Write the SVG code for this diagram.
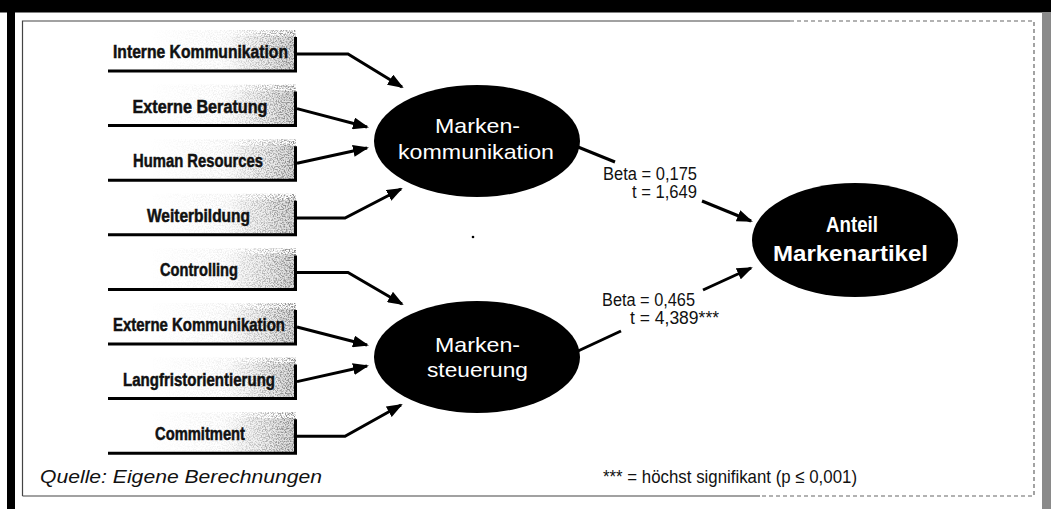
<svg xmlns="http://www.w3.org/2000/svg" width="1051" height="509" viewBox="0 0 1051 509">
  <style>
    .frame { fill: none; stroke: #444; stroke-width: 1.2; }
    .dash { fill: none; stroke: #666; stroke-width: 1.2; stroke-dasharray: 4 3; }
    .bline { stroke: #000; stroke-width: 3; fill: none; }
    .btxt { font-family: "Liberation Sans", Arial, sans-serif; font-weight: bold; font-size: 18px; fill: #111; stroke: #111; stroke-width: 0.5; text-anchor: middle; }
    .etxt { font-family: "Liberation Sans", Arial, sans-serif; font-size: 21px; fill: #fff; text-anchor: middle; }
    .atxt { font-family: "Liberation Sans", Arial, sans-serif; font-weight: bold; font-size: 22px; fill: #fff; text-anchor: middle; }
    .lbl { font-family: "Liberation Sans", Arial, sans-serif; font-size: 17.5px; fill: #111; }
    .foot { font-family: "Liberation Sans", Arial, sans-serif; font-size: 19px; fill: #111; }
    .conn { stroke: #000; stroke-width: 3; fill: none; }
    .arr { marker-end: url(#ah); }
    .speck { fill: url(#speckGrad); filter: url(#speckle); }
  </style>
  <defs>
    <linearGradient id="boxGrad" x1="0" y1="0" x2="1" y2="0">
      <stop offset="0" stop-color="#ffffff"/>
      <stop offset="0.6" stop-color="#ffffff"/>
      <stop offset="0.85" stop-color="#eeeeee"/>
      <stop offset="1" stop-color="#d8d8d8"/>
    </linearGradient>
    <linearGradient id="speckGrad" x1="0" y1="0" x2="1" y2="0">
      <stop offset="0" stop-color="#888" stop-opacity="0"/>
      <stop offset="0.55" stop-color="#888" stop-opacity="0.15"/>
      <stop offset="1" stop-color="#777" stop-opacity="0.9"/>
    </linearGradient>
    <filter id="speckle" x="0" y="0" width="1" height="1">
      <feTurbulence type="fractalNoise" baseFrequency="0.75" numOctaves="2" seed="7" result="n"/>
      <feColorMatrix in="n" type="matrix" values="0 0 0 0 0  0 0 0 0 0  0 0 0 0 0  4 0 0 0 -1.7" result="m"/>
      <feComposite in="SourceGraphic" in2="m" operator="in"/>
    </filter>
    <marker id="ah" markerUnits="userSpaceOnUse" viewBox="0 0 16 12" markerWidth="16" markerHeight="12" refX="14" refY="6" orient="auto">
      <path d="M0,0 L16,6 L0,12 z" fill="#000"/>
    </marker>
  </defs>

  <!-- page border -->
  <rect x="0" y="0" width="1051" height="509" fill="#fff"/>
  <rect x="0" y="0" width="1051" height="12.5" fill="#000"/>
  <rect x="7" y="0" width="8" height="509" fill="#000"/>
  <rect x="1042" y="12" width="9" height="497" fill="#8a8a8a"/>
  <path class="frame" d="M22.5,496 V21 H790"/>
  <path class="dash" d="M790,21 H1034 V496 H760"/>
  <path class="frame" d="M22.5,496 H760"/>

  <!-- connectors -->
  <g id="connectors">
    <path class="conn arr" d="M297,54 H348 L402,87"/>
    <path class="conn arr" d="M297,108.6 L367,127"/>
    <path class="conn arr" d="M297,163.2 L367,148"/>
    <path class="conn arr" d="M297,218 H345 L401,189"/>
    <path class="conn arr" d="M297,272.4 H348 L402,304"/>
    <path class="conn arr" d="M297,327 L367,345"/>
    <path class="conn arr" d="M297,381.6 L367,366"/>
    <path class="conn arr" d="M297,436.2 H345 L401,405"/>
    <path class="conn" d="M578,147 L615,162"/>
    <path class="conn arr" d="M702,201 L751,221"/>
    <path class="conn" d="M578,351 L621,331"/>
    <path class="conn arr" d="M703,290 L751,268"/>
    <text class="lbl" x="697" y="180" text-anchor="end" textLength="94" lengthAdjust="spacingAndGlyphs">Beta = 0,175</text>
    <text class="lbl" x="697" y="198" text-anchor="end" textLength="65" lengthAdjust="spacingAndGlyphs">t = 1,649</text>
    <text class="lbl" x="695" y="306" text-anchor="end" textLength="93" lengthAdjust="spacingAndGlyphs">Beta = 0,465</text>
    <text class="lbl" x="630" y="324" textLength="89" lengthAdjust="spacingAndGlyphs">t = 4,389***</text>
  </g>

  <!-- input boxes -->
  <g id="n-interne-kommunikation">
    <rect x="108" y="36" width="188" height="35" fill="url(#boxGrad)"/>
    <rect class="speck" x="150" y="30" width="146" height="41"/>
    <path class="bline" d="M108,71 H297 M295.5,37 V72.5"/>
    <text class="btxt" x="200.5" y="58" textLength="175" lengthAdjust="spacingAndGlyphs">Interne Kommunikation</text>
  </g>
  <g id="n-externe-beratung">
    <rect x="108" y="90.6" width="188" height="35" fill="url(#boxGrad)"/>
    <rect class="speck" x="150" y="84.6" width="146" height="41"/>
    <path class="bline" d="M108,125.6 H297 M295.5,91.6 V127.1"/>
    <text class="btxt" x="200" y="112.6" textLength="135" lengthAdjust="spacingAndGlyphs">Externe Beratung</text>
  </g>
  <g id="n-human-resources">
    <rect x="108" y="145.2" width="188" height="35" fill="url(#boxGrad)"/>
    <rect class="speck" x="150" y="139.2" width="146" height="41"/>
    <path class="bline" d="M108,180.2 H297 M295.5,146.2 V181.7"/>
    <text class="btxt" x="198" y="167.2" textLength="130" lengthAdjust="spacingAndGlyphs">Human Resources</text>
  </g>
  <g id="n-weiterbildung">
    <rect x="108" y="199.8" width="188" height="35" fill="url(#boxGrad)"/>
    <rect class="speck" x="150" y="193.8" width="146" height="41"/>
    <path class="bline" d="M108,234.8 H297 M295.5,200.8 V236.3"/>
    <text class="btxt" x="198.5" y="221.8" textLength="103" lengthAdjust="spacingAndGlyphs">Weiterbildung</text>
  </g>
  <g id="n-controlling">
    <rect x="108" y="254.4" width="188" height="35" fill="url(#boxGrad)"/>
    <rect class="speck" x="150" y="248.4" width="146" height="41"/>
    <path class="bline" d="M108,289.4 H297 M295.5,255.4 V290.9"/>
    <text class="btxt" x="199" y="276.4" textLength="78" lengthAdjust="spacingAndGlyphs">Controlling</text>
  </g>
  <g id="n-externe-kommunikation">
    <rect x="108" y="309" width="188" height="35" fill="url(#boxGrad)"/>
    <rect class="speck" x="150" y="303" width="146" height="41"/>
    <path class="bline" d="M108,344 H297 M295.5,310 V345.5"/>
    <text class="btxt" x="199" y="331" textLength="172" lengthAdjust="spacingAndGlyphs">Externe Kommunikation</text>
  </g>
  <g id="n-langfristorientierung">
    <rect x="108" y="363.6" width="188" height="35" fill="url(#boxGrad)"/>
    <rect class="speck" x="150" y="357.6" width="146" height="41"/>
    <path class="bline" d="M108,398.6 H297 M295.5,364.6 V400.1"/>
    <text class="btxt" x="199" y="385.6" textLength="152" lengthAdjust="spacingAndGlyphs">Langfristorientierung</text>
  </g>
  <g id="n-commitment">
    <rect x="108" y="418.2" width="188" height="35" fill="url(#boxGrad)"/>
    <rect class="speck" x="150" y="412.2" width="146" height="41"/>
    <path class="bline" d="M108,453.2 H297 M295.5,419.2 V454.7"/>
    <text class="btxt" x="200" y="440.2" textLength="90" lengthAdjust="spacingAndGlyphs">Commitment</text>
  </g>

  <!-- ellipses -->
  <g id="n-markenkommunikation">
    <ellipse cx="477" cy="141" rx="103" ry="56" fill="#000"/>
    <text class="etxt" x="477.5" y="133" textLength="85" lengthAdjust="spacingAndGlyphs">Marken-</text>
    <text class="etxt" x="476" y="159" textLength="156" lengthAdjust="spacingAndGlyphs">kommunikation</text>
  </g>
  <g id="n-markensteuerung">
    <ellipse cx="477" cy="357" rx="103" ry="56" fill="#000"/>
    <text class="etxt" x="477.5" y="352" textLength="85" lengthAdjust="spacingAndGlyphs">Marken-</text>
    <text class="etxt" x="477.5" y="377" textLength="101" lengthAdjust="spacingAndGlyphs">steuerung</text>
  </g>
  <g id="n-anteil-markenartikel">
    <ellipse cx="855" cy="240" rx="103" ry="57" fill="#000"/>
    <text class="atxt" x="852" y="232" textLength="52" lengthAdjust="spacingAndGlyphs">Anteil</text>
    <text class="atxt" x="850.5" y="261" textLength="155" lengthAdjust="spacingAndGlyphs">Markenartikel</text>
  </g>

  <circle cx="473" cy="237" r="1.3" fill="#000"/>

  <!-- footer -->
  <text class="foot" x="40" y="483" font-style="italic" textLength="282" lengthAdjust="spacingAndGlyphs">Quelle: Eigene Berechnungen</text>
  <text class="foot" x="603" y="483" textLength="254" lengthAdjust="spacingAndGlyphs">***  =  höchst signifikant (p ≤ 0,001)</text>
</svg>
